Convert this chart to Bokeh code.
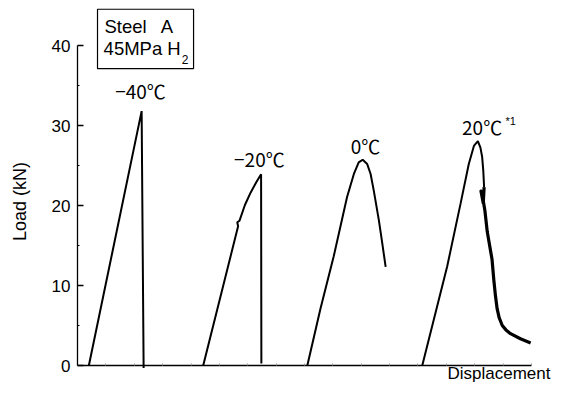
import math
from bokeh.plotting import figure
from bokeh.models import Range1d, FixedTicker, CustomJSTickFormatter
from bokeh.core.properties import value
from bokeh.embed import file_html
from bokeh.resources import INLINE

# ---- data (displacement in arbitrary units, load in kN) ----
m40_x = [0.40, 2.26, 2.33]
m40_y = [0.0, 31.8, -0.3]

m20_x = [4.43, 5.66, 5.63, 5.71, 5.90, 6.10, 6.30, 6.47, 6.48]
m20_y = [0.0, 17.4, 17.9, 18.1, 20.06, 21.6, 22.9, 23.9, 0.25]

z0_x = [8.10, 8.56, 9.03, 9.50, 9.74, 9.91, 10.05, 10.21, 10.33, 10.44, 10.62, 10.74, 10.86]
z0_y = [0.0, 7.07, 13.65, 21.06, 23.94, 25.39, 25.72, 25.18, 23.94, 21.89, 18.18, 15.29, 12.33]

p20_load_x = [12.15, 13.03, 13.50, 13.79, 13.97, 14.11, 14.20, 14.26, 14.30, 14.33]
p20_load_y = [0.0, 12.41, 20.23, 25.18, 27.45, 28.04, 27.24, 26.1, 24.4, 22.3]

p20_drop_x = [14.33, 14.30, 14.22, 14.28, 14.36, 14.44, 14.61, 14.67, 14.73, 14.79,
              14.86, 14.97, 15.10, 15.26, 15.61, 15.97]
p20_drop_y = [22.3, 20.3, 21.8, 21.0, 19.3, 16.74, 13.24, 10.77, 8.71, 7.07,
              5.99, 5.0, 4.45, 3.98, 3.34, 2.82]

y_ticks = [0, 10, 20, 30, 40]
y_minor = [5, 15, 25, 35]
x_ticks = list(range(0, 17))

labels = ["\u221240\u2103", "\u221220\u2103", "0\u2103", "20\u2103"]
label_x = [2.22, 6.41, 10.15, 14.26]
label_y = [34.34, 25.88, 27.55, 29.83]

FONT = "Liberation Sans"
JFONT = "Noto Sans CJK JP"

p = figure(width=551, height=383, output_backend="svg", toolbar_location=None,
           x_range=Range1d(-2.714, 16.705), y_range=Range1d(-2.25, 45.625),
           min_border_left=0, min_border_right=0, min_border_top=0, min_border_bottom=0)
p.outline_line_color = None
p.grid.visible = False
p.background_fill_color = "white"
p.border_fill_color = "white"

# y axis
ya = p.yaxis[0]
ya.fixed_location = 0
ya.bounds = (0, 40)
ya.ticker = FixedTicker(ticks=y_ticks, minor_ticks=y_minor)
ya.major_tick_in = 6
ya.major_tick_out = 0
ya.minor_tick_in = 2
ya.minor_tick_out = 0
ya.axis_line_width = 1.3
ya.major_tick_line_width = 1.3
ya.axis_line_color = "black"
ya.major_tick_line_color = "black"
ya.minor_tick_line_color = "black"
ya.major_label_text_font = FONT
ya.major_label_text_font_size = "17px"
ya.major_label_text_color = "black"
ya.major_label_standoff = 7

# x axis
xa = p.xaxis[0]
xa.fixed_location = 0
xa.bounds = (0, 16)
xa.ticker = FixedTicker(ticks=x_ticks)
xa.major_tick_in = 2
xa.major_tick_out = 0
xa.minor_tick_line_color = None
xa.major_tick_line_color = "#999999"
xa.axis_line_width = 1.3
xa.axis_line_color = "black"
xa.formatter = CustomJSTickFormatter(code="return ''")
xa.major_label_text_font_size = "1px"

# curves
lw = 2.0
p.line(m40_x, m40_y, line_color="black", line_width=lw)
p.line(m20_x, m20_y, line_color="black", line_width=lw)
p.line(z0_x, z0_y, line_color="black", line_width=lw)
p.line(p20_load_x, p20_load_y, line_color="black", line_width=lw)
p.line(p20_drop_x, p20_drop_y, line_color="black", line_width=3.2, line_join="round")

# temperature labels
p.text(x=label_x, y=label_y, text=labels, text_font=value(JFONT), text_font_size="19px",
       text_align="center", text_baseline="middle", text_color="black")
p.text(x=[15.08], y=[30.55], text=["*1"], text_font=value(FONT), text_font_size="11px",
       text_align="left", text_baseline="middle", text_color="black")

# legend box
p.quad(left=[0.705], right=[4.09], top=[44.53], bottom=[37.12],
       fill_color="white", line_color="black", line_width=1.2)
p.text(x=[0.95, 2.93], y=[42.40, 42.40], text=["Steel", "A"], text_font=value(FONT),
       text_font_size="18.5px", text_align="left", text_baseline="middle", text_color="black")
p.text(x=[0.92], y=[39.59], text=["45MPa H"], text_font=value(FONT), text_font_size="18.5px",
       text_align="left", text_baseline="middle", text_color="black")
p.text(x=[3.67], y=[38.23], text=["2"], text_font=value(FONT), text_font_size="12px",
       text_align="left", text_baseline="middle", text_color="black")

# axis titles
p.text(x=[-2.044], y=[20.5], text=["Load (kN)"], angle=math.pi / 2,
       text_font=value(FONT), text_font_size="18px", text_align="center",
       text_baseline="middle", text_color="black")
p.text(x=[16.67], y=[-2.125], text=["Displacement"],
       text_font=value(FONT), text_font_size="17px", text_align="right",
       text_baseline="bottom", text_color="black")

open("out.html", "w").write(file_html(p, INLINE))
